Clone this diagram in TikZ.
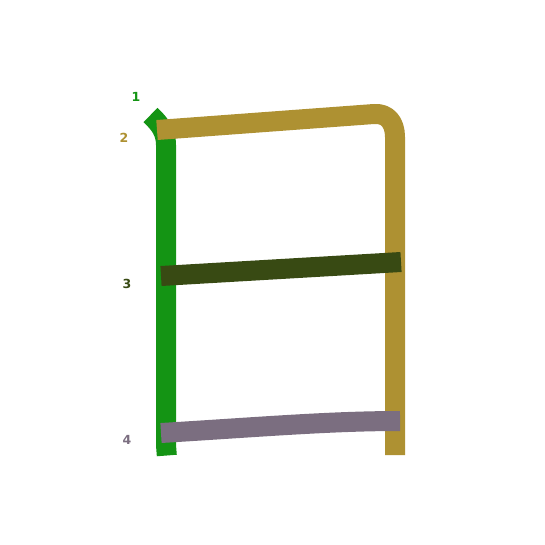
\documentclass[tikz,border=0pt]{standalone}
\usepackage{fontspec}
\setmainfont{DejaVu Sans}
\definecolor{sone}{HTML}{149414}
\definecolor{stwo}{HTML}{AE9132}
\definecolor{sthree}{HTML}{384A13}
\definecolor{sfour}{HTML}{7B6E80}
\begin{document}
\begin{tikzpicture}[x=1pt,y=-1pt,
  strokeline/.style={line width=20pt,line cap=butt,line join=round},
  numlabel/.style={font=\bfseries\fontsize{12.5}{12.5}\selectfont,inner sep=0pt}]
\useasboundingbox (0,0) rectangle (545,545);
% stroke 1
\coordinate (a1) at (150.5,115);
\coordinate (a2) at (166,145);
\coordinate (a3) at (166,445);
\coordinate (a4) at (166.8,455.5);
\draw[strokeline,sone] (a1) .. controls (160,124) and (166,132) .. (a2) -- (a3) .. controls (166,450) .. (a4);
% stroke 2
\coordinate (b1) at (157,130);
\coordinate (b2) at (374,114);
\coordinate (b3) at (395,137);
\coordinate (b4) at (395,455);
\draw[strokeline,stwo] (b1) -- (b2) .. controls (387,113) and (395,122) .. (b3) -- (b4);
% stroke 3
\coordinate (c1) at (161,276);
\coordinate (c2) at (401,262);
\draw[strokeline,sthree] (c1) -- (c2);
% stroke 4
\coordinate (d1) at (161,433);
\coordinate (d2) at (400,421);
\draw[strokeline,sfour] (d1) .. controls (260,427) and (330,421) .. (d2);
% labels
\node[numlabel,text=sone] (n1) at (136,97) {1};
\node[numlabel,text=stwo] (n2) at (124,138) {2};
\node[numlabel,text=sthree] (n3) at (127,284) {3};
\node[numlabel,text=sfour] (n4) at (127,440) {4};
\end{tikzpicture}
\end{document}
